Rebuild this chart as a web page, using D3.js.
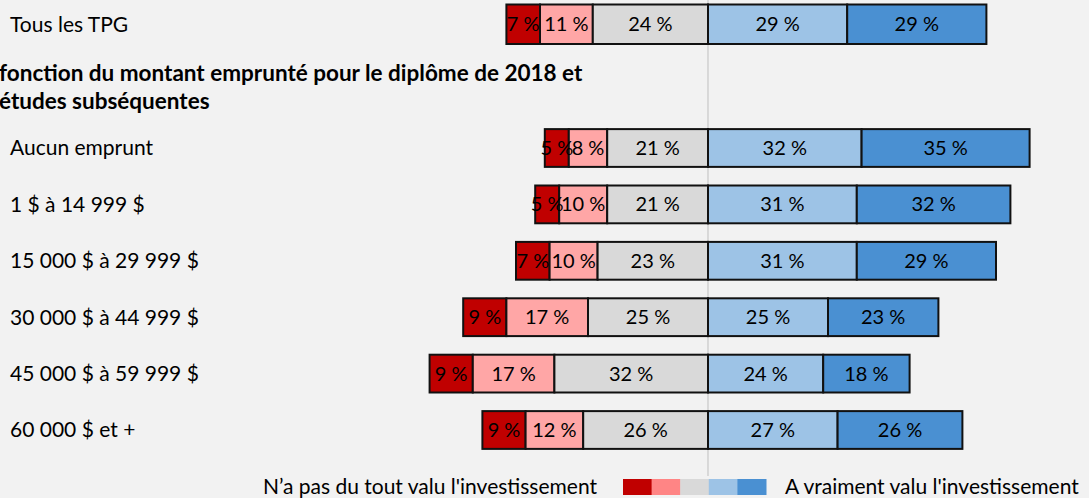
<!DOCTYPE html>
<html><head><meta charset="utf-8">
<script src="https://cdn.jsdelivr.net/npm/d3@7"></script>
<style>
html,body{margin:0;padding:0;background:#f2f2f2;}
svg{display:block;}
text{font-family:Lato, "Open Sans", sans-serif;}
</style></head>
<body>
<svg id="c" width="1089" height="498"></svg>
<script>
// ---- data ----
const topCategory = ["Tous les TPG"];
const loanCategories = ["Aucun emprunt","1 $ à 14 999 $","15 000 $ à 29 999 $","30 000 $ à 44 999 $","45 000 $ à 59 999 $","60 000 $ et +"];
const seriesNames = ["Pas du tout","Peu","Neutre","Assez","Vraiment"];
const notAtAll   = [7, 5, 5, 7, 9, 9, 9];
const little     = [11, 8, 10, 10, 17, 17, 12];
const neutral    = [24, 21, 21, 23, 25, 32, 26];
const somewhat   = [29, 32, 31, 31, 25, 24, 27];
const really     = [29, 35, 32, 29, 23, 18, 26];
const headerLines = ["fonction du montant emprunté pour le diplôme de 2018 et","études subséquentes"];
const legendLeft = "N’a pas du tout valu l'investissement";
const legendRight = "A vraiment valu l'investissement";

const barColors = ["#c00000","#ffa6a6","#d9d9d9","#9dc3e6","#4a90d2"];
const legendColors = ["#c00000","#ff8585","#d9d9d9","#9dc3e6","#4a90d2"];

const svg = d3.select("#c");
const allCats = topCategory.concat(loanCategories);
const rows = allCats.map((c,i)=>({cat:c, vals:[notAtAll[i],little[i],neutral[i],somewhat[i],really[i]]}));

const x = d3.scaleLinear().domain([-60, 80]).range([708 - 60*4.8, 708 + 80*4.8]);
const yTop = d3.scaleBand().domain(topCategory).range([4.5, 44]).paddingInner(0).paddingOuter(0);
const yLoan = d3.scaleBand().domain(loanCategories).range([119.8, 458.2]).paddingInner(0.33).paddingOuter(0.165);
function yOf(c){ return topCategory.includes(c) ? yTop(c) : yLoan(c); }
function hOf(c){ return topCategory.includes(c) ? yTop.bandwidth() : yLoan.bandwidth(); }

// center line
svg.append("line").attr("x1", x(0)).attr("x2", x(0)).attr("y1", 0).attr("y2", 476)
  .attr("stroke", "#bfbfbf").attr("stroke-width", 1);

// segments
rows.forEach(r=>{
  const leftTotal = r.vals[0]+r.vals[1]+r.vals[2];
  let start = -leftTotal;
  const segs = r.vals.map((v,k)=>{ const s = {k, v, a:start, b:start+v}; start += v; return s; });
  const g = svg.append("g");
  g.selectAll("rect").data(segs).join("rect")
    .attr("x", d=>x(d.a)).attr("width", d=>x(d.b)-x(d.a))
    .attr("y", yOf(r.cat)).attr("height", hOf(r.cat))
    .attr("fill", d=>barColors[d.k]).attr("stroke", "#111").attr("stroke-width", 2);
  g.selectAll("text").data(segs).join("text")
    .attr("x", d=>(x(d.a)+x(d.b))/2).attr("y", yOf(r.cat)+hOf(r.cat)/2)
    .attr("dy", "0.35em").attr("text-anchor", "middle")
    .attr("font-size", 20).attr("fill", "#000")
    .text(d=>d.v + " %");
  svg.append("text").attr("x", 10).attr("y", yOf(r.cat)+hOf(r.cat)/2).attr("dy","0.35em")
    .attr("font-size", 21).attr("fill","#000").text(r.cat);
});

// header
svg.selectAll("text.hdr").data(headerLines).join("text").attr("class","hdr")
  .attr("x", -1).attr("y", (d,i)=>73 + i*28).attr("dy","0.35em")
  .attr("font-size", 22.5).attr("font-weight","bold").attr("fill","#000").text(d=>d);

// legend
const lx = d3.scaleBand().domain(seriesNames).range([623, 766]);
svg.selectAll("rect.leg").data(seriesNames).join("rect").attr("class","leg")
  .attr("x", d=>lx(d)).attr("width", lx.bandwidth()+0.5).attr("y", 479).attr("height", 16)
  .attr("fill", (d,i)=>legendColors[i]);
svg.append("text").attr("x", 597).attr("y", 487).attr("dy","0.35em").attr("text-anchor","end")
  .attr("font-size", 21).attr("fill","#000").text(legendLeft);
svg.append("text").attr("x", 785).attr("y", 487).attr("dy","0.35em")
  .attr("font-size", 21).attr("fill","#000").text(legendRight);
</script>
</body></html>
